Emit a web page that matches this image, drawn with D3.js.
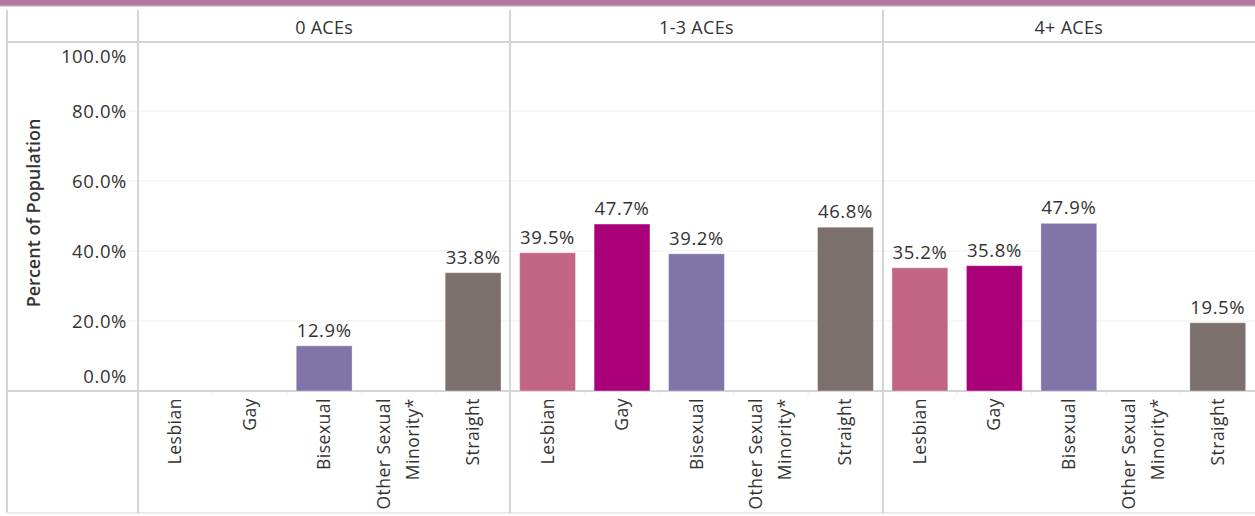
<!DOCTYPE html>
<html>
<head>
<meta charset="utf-8">
<script src="https://cdn.jsdelivr.net/npm/d3@7"></script>
<style>
  html, body { margin: 0; padding: 0; background: #fff; }
  svg { display: block; font-family: "Open Sans", "Noto Sans", sans-serif; }
</style>
</head>
<body>
<svg id="chart" width="1255" height="516"></svg>
<script>
// ACE groups (column panels) and sexual orientation categories
const groups = ["0 ACEs", "1-3 ACEs", "4+ ACEs"];
const categories = ["Lesbian", "Gay", "Bisexual", "Other Sexual Minority*", "Straight"];
const categoryLines = [["Lesbian"], ["Gay"], ["Bisexual"], ["Other Sexual", "Minority*"], ["Straight"]];

// Percent of population per group, in category order (null = not shown)
const aces0  = [null, null, 12.9, null, 33.8];
const aces13 = [39.5, 47.7, 39.2, null, 46.8];
const aces4  = [35.2, 35.8, 47.9, null, 19.5];
const seriesByGroup = [aces0, aces13, aces4];

const yTicks = [0, 20, 40, 60, 80, 100];
const colors = ["#c26584", "#a9007a", "#8074a8", "#ffffff", "#7b706c"];

const svg = d3.select("#chart");
const W = 1255;
const frameLeft = 7, headerTop = 10, headerBottom = 42, axisY = 391, bottomY = 513;
const panelLeft = 138, panelRight = 1255;
const textColor = "#333";

// top accent strip
const grad = svg.append("defs").append("linearGradient")
  .attr("id", "strip").attr("x1", 0).attr("x2", 0).attr("y1", 0).attr("y2", 1);
grad.append("stop").attr("offset", "0%").attr("stop-color", "#b27aa0");
grad.append("stop").attr("offset", "70%").attr("stop-color", "#b27aa0");
grad.append("stop").attr("offset", "100%").attr("stop-color", "#f3e6ee");
svg.append("rect").attr("x", 0).attr("y", 0).attr("width", W).attr("height", 7)
  .attr("fill", "url(#strip)");

// panel scale and per-panel band scale
const panelX = d3.scaleBand().domain(groups).range([panelLeft, panelRight]);
const bandX = d3.scaleBand().domain(categories).range([0, panelX.bandwidth()]).paddingInner(0.25).paddingOuter(0.125);
const y = d3.scaleLinear().domain([0, 100]).range([axisY, 41]);

// gridlines
svg.append("g").selectAll("line").data(yTicks.filter(t => t > 0 && t < 100)).join("line")
  .attr("x1", 128).attr("x2", panelRight)
  .attr("y1", d => y(d)).attr("y2", d => y(d))
  .attr("stroke", "#efefef").attr("stroke-width", 1);

// frame lines
const frame = svg.append("g").attr("stroke", "#d4d4d4").attr("stroke-width", 2).attr("fill", "none");
frame.append("line").attr("x1", frameLeft).attr("x2", frameLeft).attr("y1", headerTop).attr("y2", bottomY);
frame.append("line").attr("x1", frameLeft).attr("x2", W).attr("y1", headerBottom).attr("y2", headerBottom);
frame.append("line").attr("x1", frameLeft).attr("x2", W).attr("y1", axisY).attr("y2", axisY);
frame.append("line").attr("x1", frameLeft).attr("x2", W).attr("y1", bottomY).attr("y2", bottomY)
  .attr("stroke", "#ececec");
frame.selectAll(".sep").data(groups).join("line").attr("class", "sep")
  .attr("x1", d => Math.round(panelX(d))).attr("x2", d => Math.round(panelX(d)))
  .attr("y1", headerTop).attr("y2", bottomY);

// y axis tick labels (end labels kept inside the pane)
svg.append("g").selectAll("text").data(yTicks).join("text")
  .attr("x", 127)
  .attr("y", d => d === 0 ? y(d) - 8 : d === 100 ? y(d) + 22 : y(d) + 7)
  .attr("text-anchor", "end")
  .attr("font-size", 18.5).attr("letter-spacing", 0.6).attr("fill", textColor)
  .text(d => d3.format(".1f")(d) + "%");

// y axis title
svg.append("text")
  .attr("transform", `translate(40,${213}) rotate(-90)`)
  .attr("text-anchor", "middle")
  .attr("font-size", 18).attr("font-weight", 600).attr("fill", textColor)
  .text("Percent of Population");

// panel headers
svg.append("g").selectAll("text").data(groups).join("text")
  .attr("x", d => panelX(d) + panelX.bandwidth() / 2)
  .attr("y", 34)
  .attr("text-anchor", "middle")
  .attr("font-size", 18).attr("letter-spacing", 0.3).attr("fill", textColor)
  .text(d => d);

// panels with bars, value labels and category labels
groups.forEach((g, gi) => {
  const p = svg.append("g").attr("transform", `translate(${panelX(g)},0)`);
  const rows = categories.map((c, ci) => ({ c, ci, v: seriesByGroup[gi][ci] }));

  // faint dividers between categories under the axis
  p.selectAll(".div").data(categories.slice(1)).join("line").attr("class", "div")
    .attr("x1", d => bandX(d) - bandX.step() * bandX.paddingInner() / 2)
    .attr("x2", d => bandX(d) - bandX.step() * bandX.paddingInner() / 2)
    .attr("y1", axisY + 1).attr("y2", axisY + 6)
    .attr("stroke", "#f0f0f0");

  const withVal = rows.filter(r => r.v != null);
  p.selectAll("rect").data(withVal).join("rect")
    .attr("x", r => bandX(r.c))
    .attr("width", bandX.bandwidth())
    .attr("y", r => y(r.v))
    .attr("height", r => y(0) - y(r.v))
    .attr("fill", r => colors[r.ci])
    .attr("stroke", "#ffffff").attr("stroke-opacity", 0.35).attr("stroke-width", 1);

  p.selectAll(".val").data(withVal).join("text").attr("class", "val")
    .attr("x", r => bandX(r.c) + bandX.bandwidth() / 2)
    .attr("y", r => y(r.v) - 9)
    .attr("text-anchor", "middle")
    .attr("font-size", 18.5).attr("letter-spacing", 0.6).attr("fill", textColor)
    .text(r => r.v.toFixed(1) + "%");

  rows.forEach(r => {
    const lines = categoryLines[r.ci];
    const cx = bandX(r.c) + bandX.bandwidth() / 2;
    lines.forEach((ln, li) => {
      const off = (li - (lines.length - 1) / 2) * 29;
      p.append("text")
        .attr("transform", `translate(${cx + off + 6},${axisY + 7}) rotate(-90)`)
        .attr("text-anchor", "end")
        .attr("font-size", 17.5).attr("letter-spacing", 0.5).attr("fill", textColor)
        .text(ln);
    });
  });
});
</script>
</body>
</html>
